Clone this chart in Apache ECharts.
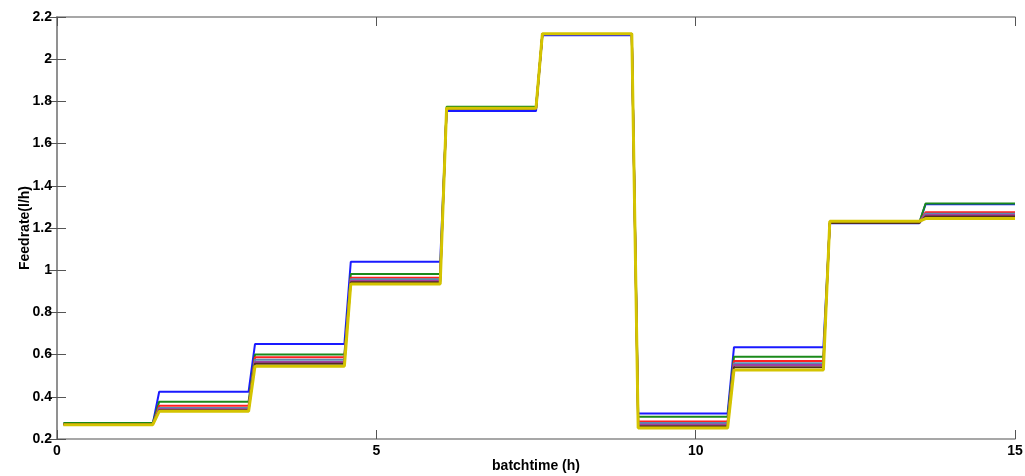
<!DOCTYPE html>
<html>
<head>
<meta charset="utf-8">
<script src="https://cdn.jsdelivr.net/npm/echarts@6/dist/echarts.min.js"></script>
<style>html,body{margin:0;padding:0;background:#fff}#c{width:1025px;height:476px}</style>
</head>
<body>
<div id="c"></div>
<script>
// Step intervals (h)
var stepStarts = [0.1, 1.6, 3.1, 4.6, 6.1, 7.6, 9.1, 10.6, 12.1, 13.6];
var stepEnds   = [1.5, 3.0, 4.5, 6.0, 7.5, 9.0, 10.5, 12.0, 13.5, 15.0];

// Feedrate values per step for each run
var blueRun    = [0.272, 0.424, 0.650, 1.040, 1.754, 2.113, 0.321, 0.635, 1.222, 1.313];
var greenRun   = [0.276, 0.377, 0.600, 0.982, 1.775, 2.120, 0.306, 0.590, 1.225, 1.316];
var redRun     = [0.270, 0.358, 0.587, 0.964, 1.766, 2.120, 0.283, 0.570, 1.226, 1.275];
var cyanRun    = [0.270, 0.347, 0.576, 0.957, 1.766, 2.120, 0.276, 0.559, 1.226, 1.268];
var magentaRun = [0.270, 0.341, 0.565, 0.949, 1.766, 2.120, 0.268, 0.551, 1.224, 1.262];
var blackRun   = [0.270, 0.336, 0.557, 0.943, 1.766, 2.120, 0.260, 0.540, 1.224, 1.255];
var yellowRun  = [0.268, 0.331, 0.545, 0.935, 1.768, 2.121, 0.252, 0.527, 1.232, 1.245];

var xTicks = [0, 5, 10, 15];
var yTicks = [0.2, 0.4, 0.6, 0.8, 1, 1.2, 1.4, 1.6, 1.8, 2, 2.2];

function toSteps(vals) {
  var out = [];
  for (var i = 0; i < vals.length; i++) {
    out.push([stepStarts[i], vals[i]]);
    out.push([stepEnds[i], vals[i]]);
  }
  return out;
}

var runs = [
  {v: blueRun, c: '#1a1aff', w: 2},
  {v: greenRun, c: '#1a8a1a', w: 2},
  {v: redRun, c: '#ff2020', w: 2},
  {v: cyanRun, c: '#5a8ab0', w: 2},
  {v: magentaRun, c: '#a040a0', w: 2},
  {v: blackRun, c: '#503020', w: 2},
  {v: yellowRun, c: '#d4c400', w: 3}
];

var series = runs.map(function (r, i) {
  return {
    type: 'line', data: toSteps(r.v), symbol: 'none', silent: true,
    lineStyle: {color: r.c, width: r.w}, z: 2 + i, xAxisIndex: 0, yAxisIndex: 0
  };
});

var fnt = {fontFamily: 'Liberation Sans, Arial, sans-serif', fontWeight: 'bold', fontSize: 14, color: '#000'};
var axLine = {show: true, lineStyle: {color: '#8a8a8a', width: 1.5}};
var tick = {show: true, inside: true, length: 9, lineStyle: {color: '#555', width: 1}};

var chart = echarts.init(document.getElementById('c'), null, {renderer: 'canvas'});
chart.setOption({
  animation: false,
  backgroundColor: '#fff',
  grid: {left: 57, right: 10, top: 17, bottom: 37, containLabel: false, outerBoundsMode: 'none'},
  xAxis: [{
    type: 'value', min: xTicks[0], max: xTicks[xTicks.length - 1], interval: 5,
    position: 'bottom', axisLine: axLine, axisTick: tick, splitLine: {show: false},
    axisLabel: Object.assign({margin: 5}, fnt),
    name: 'batchtime (h)', nameLocation: 'middle', nameGap: 20, nameMoveOverlap: false,
    nameTextStyle: fnt
  }, {
    type: 'value', min: 0, max: 15, interval: 5, position: 'top',
    axisLine: axLine, axisTick: tick, axisLabel: {show: false}, splitLine: {show: false}
  }],
  yAxis: [{
    type: 'value', min: yTicks[0], max: yTicks[yTicks.length - 1], interval: 0.2,
    position: 'left', axisLine: axLine, axisTick: tick, splitLine: {show: false},
    axisLabel: Object.assign({margin: 5, formatter: function (v) { return String(+v.toFixed(1)); }}, fnt),
    name: 'Feedrate(l/h)', nameLocation: 'middle', nameGap: 25, nameRotate: 90, nameMoveOverlap: false,
    nameTextStyle: fnt
  }, {
    type: 'value', min: 0.2, max: 2.2, interval: 0.2, position: 'right',
    axisLine: axLine, axisTick: tick, axisLabel: {show: false}, splitLine: {show: false}
  }],
  series: series
});
</script>
</body>
</html>
